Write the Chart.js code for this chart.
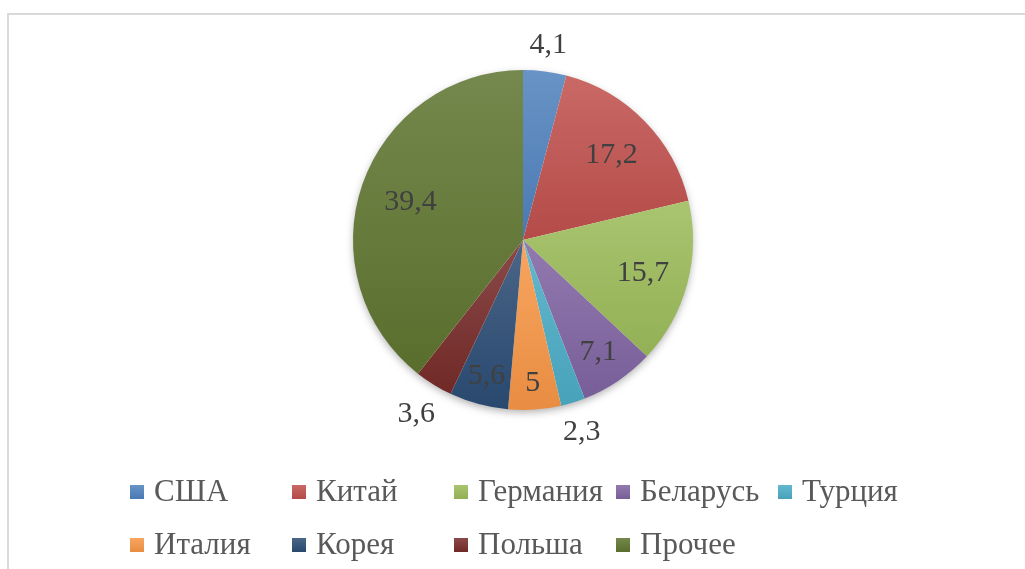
<!DOCTYPE html>
<html>
<head>
<meta charset="utf-8">
<script src="https://cdn.jsdelivr.net/npm/chart.js@4.4.0/dist/chart.umd.min.js"></script>
<style>
	html, body { margin: 0; padding: 0; background: #fff; overflow: hidden; }
	#frame {
		position: absolute; left: 7px; top: 13px; width: 1030px; height: 570px;
		border-left: 2px solid #d9d9d9; border-top: 2px solid #d9d9d9;
	}
	#chart { position: absolute; left: 0; top: 0; }
</style>
</head>
<body>
<div id="frame"></div>
<canvas id="chart" width="1025" height="569"></canvas>
<script>
'use strict';

// data (percent)
var countries = ['США', 'Китай', 'Германия', 'Беларусь', 'Турция', 'Италия', 'Корея', 'Польша', 'Прочее'];
var shares = [4.1, 17.2, 15.7, 7.1, 2.3, 5, 5.6, 3.6, 39.4];
var sliceColors = ['#4f81bd', '#c0504d', '#9bbb59', '#8064a2', '#4bacc6', '#f79646', '#2c4d75', '#772c2a', '#5f7530'];

var FONT = '"Liberation Serif", "Times New Roman", serif';

//mix a hex colour with white (t > 0) or black (t < 0)
function shade(hex, t){
	var n = parseInt(hex.slice(1), 16),
		rgb = [(n >> 16) & 255, (n >> 8) & 255, n & 255],
		target = t > 0 ? 255 : 0,
		k = Math.abs(t);
	rgb = rgb.map(function(c){ return Math.round(c + (target - c) * k); });
	return 'rgb(' + rgb.join(',') + ')';
}

/**
 * Office like vertical gradient on every slice + soft shadow under the pie
 */
var sliceStyle = {
	id : 'sliceStyle',
	beforeDatasetsDraw : function(chart){
		var ctx = chart.ctx,
			meta = chart.getDatasetMeta(0),
			first = meta.data[0];

		//shadow
		ctx.save();
		ctx.shadowColor = 'rgba(0,0,0,0.35)';
		ctx.shadowBlur = 9;
		ctx.shadowOffsetY = 3;
		ctx.fillStyle = '#fff';
		ctx.beginPath();
		ctx.arc(first.x, first.y, first.outerRadius - 1, 0, Math.PI * 2);
		ctx.fill();
		ctx.restore();

		meta.data.forEach(function(arc, i){
			var top = arc.y, bottom = arc.y, a, y, s;
			for(s = 0; s <= 40; s++){
				a = arc.startAngle + (arc.endAngle - arc.startAngle) * s / 40;
				y = arc.y + Math.sin(a) * arc.outerRadius;
				top = Math.min(top, y);
				bottom = Math.max(bottom, y);
			}
			var grad = ctx.createLinearGradient(0, top, 0, bottom);
			grad.addColorStop(0, shade(sliceColors[i], 0.14));
			grad.addColorStop(1, shade(sliceColors[i], -0.06));
			arc.options.backgroundColor = grad;
		});
	}
};

/**
 * Value labels: inside the slice (narrow slices push the text outward),
 * or outside for the thin ones
 */
var valueLabels = {
	id : 'valueLabels',
	afterDatasetsDraw : function(chart){
		var ctx = chart.ctx,
			meta = chart.getDatasetMeta(0);
		ctx.save();
		ctx.font = '30px ' + FONT;
		ctx.fillStyle = '#404040';
		ctx.textAlign = 'center';
		ctx.textBaseline = 'middle';
		meta.data.forEach(function(arc, i){
			var text = String(shares[i]).replace('.', ','),
				span = arc.endAngle - arc.startAngle,
				mid = (arc.startAngle + arc.endAngle) / 2,
				cos = Math.cos(mid), sin = Math.sin(mid),
				w = ctx.measureText(text).width, h = 22,
				dist;
			if(shares[i] < 4.5){
				dist = arc.outerRadius + 14 + Math.abs(cos) * w / 2 + Math.abs(sin) * h / 2;
			} else {
				dist = arc.outerRadius * (0.68 + 0.05 / span);
			}
			ctx.fillText(text, arc.x + cos * dist, arc.y + sin * dist + 1);
		});
		ctx.restore();
	}
};

/**
 * Legend in a 5 column grid under the pie
 */
var gridLegend = {
	id : 'gridLegend',
	afterDraw : function(chart){
		var ctx = chart.ctx,
			cols = 5, x0 = 130, colW = 162, y0 = 492, rowH = 53, box = 14;
		ctx.save();
		ctx.font = '31px ' + FONT;
		ctx.textBaseline = 'middle';
		countries.forEach(function(name, i){
			var x = x0 + (i % cols) * colW,
				y = y0 + Math.floor(i / cols) * rowH,
				grad = ctx.createLinearGradient(0, y - box / 2, 0, y + box / 2);
			grad.addColorStop(0, shade(sliceColors[i], 0.14));
			grad.addColorStop(1, shade(sliceColors[i], -0.06));
			ctx.fillStyle = grad;
			ctx.fillRect(x, y - box / 2, box, box);
			ctx.fillStyle = '#595959';
			ctx.fillText(name, x + box + 10, y + 1);
		});
		ctx.restore();
	}
};

new Chart(document.getElementById('chart').getContext('2d'), {
	type : 'pie',
	data : {
		labels : countries,
		datasets : [{
			data : shares,
			backgroundColor : sliceColors,
			borderWidth : 0
		}]
	},
	options : {
		responsive : false,
		animation : false,
		layout : { padding : { left : 353, right : 332, top : 70, bottom : 159 } },
		plugins : {
			legend : { display : false },
			tooltip : { enabled : false }
		}
	},
	plugins : [sliceStyle, valueLabels, gridLegend]
});
</script>
</body>
</html>
